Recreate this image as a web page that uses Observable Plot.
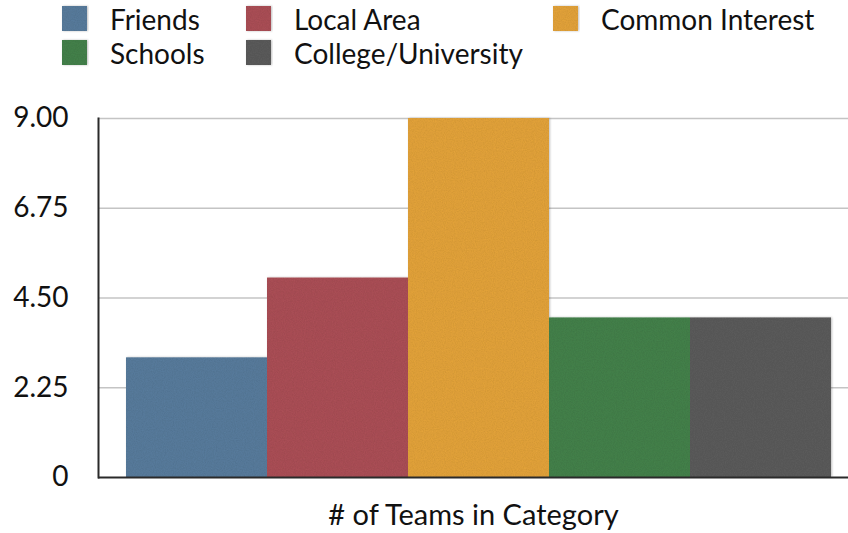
<!DOCTYPE html>
<html>
<head>
<meta charset="utf-8">
<script src="https://cdn.jsdelivr.net/npm/d3@7"></script>
<script src="https://cdn.jsdelivr.net/npm/@observablehq/plot@0.6"></script>
<style>
  html, body { margin: 0; padding: 0; background: #fff; }
  body { width: 848px; height: 533px; overflow: hidden; font-family: Lato, "Open Sans", sans-serif; }
  #legend { position: relative; height: 75px; width: 848px; font-size: 28px; color: #111; }
  .item { position: absolute; display: flex; align-items: center; height: 25px; }
  .sw { width: 25px; height: 25px; margin-right: 23px; filter: url(#tex); }
</style>
</head>
<body>
<svg width="0" height="0" style="position:absolute">
  <defs>
    <filter id="tex" x="-5%" y="-5%" width="110%" height="110%">
      <feTurbulence type="fractalNoise" baseFrequency="0.9" numOctaves="2" seed="3" result="n"/>
      <feColorMatrix in="n" type="matrix" values="0 0 0 0 0  0 0 0 0 0  0 0 0 0 0  0.22 0 0 0 -0.04" result="na"/>
      <feComposite in="na" in2="SourceGraphic" operator="in" result="nc"/>
      <feDropShadow in="SourceGraphic" dx="1" dy="0" stdDeviation="1" flood-color="#000" flood-opacity="0.25" result="ds"/>
      <feMerge><feMergeNode in="ds"/><feMergeNode in="nc"/></feMerge>
    </filter>
  </defs>
</svg>
<div id="legend"></div>
<div id="chart"></div>
<script>
const categories = ["Friends", "Local Area", "Common Interest", "Schools", "College/University"];
const values = [3, 5, 9, 4, 4];
const colors = ["#587c9c", "#ab5056", "#e3a33b", "#44814b", "#5b5b5b"];
const yTicks = [0, 2.25, 4.5, 6.75, 9];
const yTickLabels = ["0", "2.25", "4.50", "6.75", "9.00"];
const xLabel = "# of Teams in Category";

// legend
const legendPos = [[62, 6], [246, 6], [553, 6], [62, 40], [246, 40]];
const legend = document.getElementById("legend");
categories.forEach((c, i) => {
  const it = document.createElement("div");
  it.className = "item";
  it.style.left = legendPos[i][0] + "px";
  it.style.top = legendPos[i][1] + "px";
  const sw = document.createElement("div");
  sw.className = "sw";
  sw.style.background = colors[i];
  const t = document.createElement("span");
  t.textContent = c;
  it.appendChild(sw); it.appendChild(t);
  legend.appendChild(it);
});

const data = categories.map((c, i) => ({category: c, value: values[i]}));

const chart = Plot.plot({
  width: 848,
  height: 458,
  marginTop: 43,
  marginBottom: 56,
  marginLeft: 98,
  marginRight: 0,
  style: {fontFamily: "Lato, 'Open Sans', sans-serif", fontSize: "28px", color: "#111", background: "#fff"},
  x: {domain: categories, range: [125, 831], padding: 0, axis: null},
  y: {domain: [0, 9], axis: null},
  color: {domain: categories, range: colors},
  marks: [
    Plot.ruleY(yTicks.filter(d => d > 0), {stroke: "#c4c4c4", strokeWidth: 1.5}),
    Plot.barY(data, {x: "category", y: "value", fill: "category", className: "bars"}),
    Plot.ruleY([0], {stroke: "#2a2a2a", strokeWidth: 2}),
    Plot.frame({anchor: "left", stroke: "#2a2a2a", strokeWidth: 2}),
    Plot.axisY({ticks: yTicks, tickSize: 0, tickPadding: 30, tickFormat: (d) => yTickLabels[yTicks.indexOf(d)], label: null, fontSize: 28, fill: "#111"}),
    Plot.text([xLabel], {frameAnchor: "bottom", lineAnchor: "middle", dy: 38, fontSize: 29, fill: "#111"})
  ]
});
document.getElementById("chart").appendChild(chart);
const g = chart.querySelector("g.bars") || chart.querySelector("g[aria-label='bar']");
if (g) g.setAttribute("filter", "url(#tex)");
</script>
</body>
</html>
